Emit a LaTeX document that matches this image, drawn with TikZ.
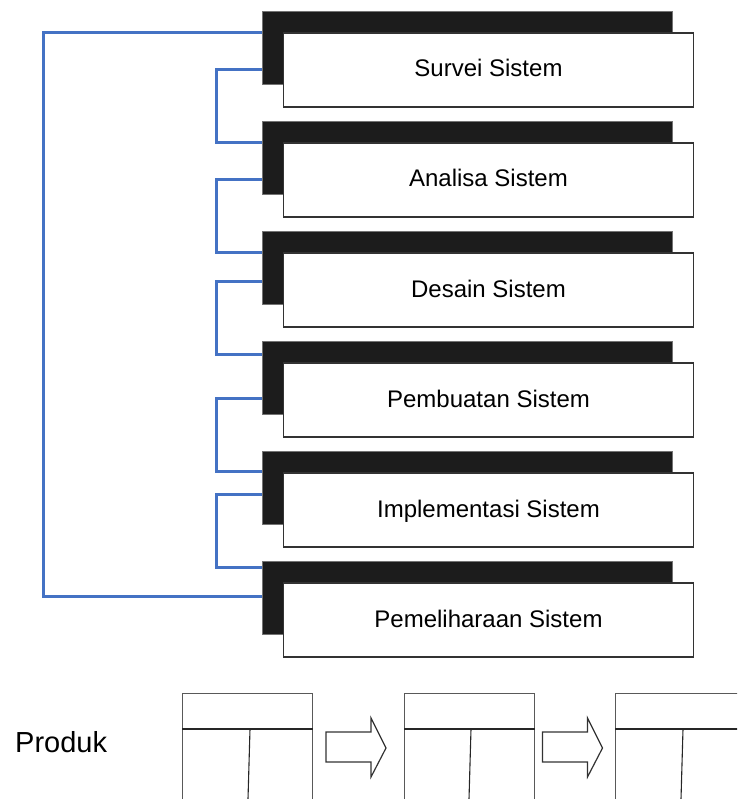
\documentclass[tikz,border=0pt]{standalone}
\usepackage{fontspec}
\setmainfont{Liberation Sans}
\usetikzlibrary{calc}
\definecolor{blueline}{HTML}{4472C4}
\definecolor{shade}{HTML}{1C1C1C}
\begin{document}
\begin{tikzpicture}[x=1pt,y=-1pt,
  shadowbox/.style={fill=shade, draw=black!55, line width=0.8pt, minimum width=410pt, minimum height=73pt, inner sep=0pt},
  stagebox/.style={fill=white, draw=black!80, line width=1.2pt, minimum width=410pt, minimum height=74pt, inner sep=0pt,
    text height=16pt, text depth=2pt, font=\fontsize{24}{28}\selectfont},
  conn/.style={draw=blueline, line width=3pt},
  tablebox/.style={draw=black!65, line width=1.2pt, minimum width=130pt, minimum height=137pt, inner sep=0pt, anchor=north west},
  tableinner/.style={draw=black!85, line width=1.1pt},
  blockarrow/.style={draw=black!80, line width=1.2pt, fill=white, line join=miter},
  labeltext/.style={font=\fontsize{29}{33}\selectfont, inner sep=0pt, anchor=base west}
]
\useasboundingbox (0,0) rectangle (737,799);
\clip (0,0) rectangle (737,799);

% stages
\node[shadowbox] (b1) at (467,47.5) {};
\node[stagebox]  (w1) at (488.5,70) {Survei Sistem};
\node[shadowbox] (b2) at (467,157.5) {};
\node[stagebox]  (w2) at (488.5,180) {Analisa Sistem};
\node[shadowbox] (b3) at (467,267.5) {};
\node[stagebox]  (w3) at (488.5,290) {Desain Sistem};
\node[shadowbox] (b4) at (467,377.5) {};
\node[stagebox]  (w4) at (488.5,400) {Pembuatan Sistem};
\node[shadowbox] (b5) at (467,487.5) {};
\node[stagebox]  (w5) at (488.5,510) {Implementasi Sistem};
\node[shadowbox] (b6) at (467,597.5) {};
\node[stagebox]  (w6) at (488.5,620) {Pemeliharaan Sistem};

% connector anchor points on the left edge of the dark boxes
\coordinate (u1) at ($(b1.north west)+(0,22)$);
\coordinate (l1) at ($(b1.north west)+(0,59)$);
\coordinate (u2) at ($(b2.north west)+(0,22)$);
\coordinate (l2) at ($(b2.north west)+(0,59)$);
\coordinate (u3) at ($(b3.north west)+(0,22)$);
\coordinate (l3) at ($(b3.north west)+(0,51)$);
\coordinate (u4) at ($(b4.north west)+(0,14)$);
\coordinate (l4) at ($(b4.north west)+(0,58)$);
\coordinate (u5) at ($(b5.north west)+(0,21)$);
\coordinate (l5) at ($(b5.north west)+(0,44)$);
\coordinate (u6) at ($(b6.north west)+(0,7)$);
\coordinate (l6) at ($(b6.north west)+(0,36)$);

\draw[conn] (l1) -- ++(-45,0) |- (u2);
\draw[conn] (l2) -- ++(-45,0) |- (u3);
\draw[conn] (l3) -- ++(-45,0) |- (u4);
\draw[conn] (l4) -- ++(-45,0) |- (u5);
\draw[conn] (l5) -- ++(-45,0) |- (u6);
\draw[conn] (u1) -- ++(-218,0) |- (l6);

% product row
\node[labeltext] (produk) at (15,752) {Produk};

\node[tablebox] (t1) at (182,693) {};
\node[tablebox] (t2) at (404,693) {};
\node[tablebox] (t3) at (615,693) {};
\draw[tableinner] ($(t1.north west)+(0,36)$) -- ($(t1.north east)+(0,36)$);
\draw[tableinner] ($(t2.north west)+(0,36)$) -- ($(t2.north east)+(0,36)$);
\draw[tableinner] ($(t3.north west)+(0,36)$) -- ($(t3.north east)+(0,36)$);
\draw[tableinner] ($(t1.north west)+(68,36)$) -- ($(t1.north west)+(66,106)$);
\draw[tableinner] ($(t2.north west)+(67,36)$) -- ($(t2.north west)+(65,106)$);
\draw[tableinner] ($(t3.north west)+(68,36)$) -- ($(t3.north west)+(66,106)$);

\draw[blockarrow] (326,732) -- (371,732) -- (371,718) -- (386,748) -- (371,777) -- (371,762) -- (326,762) -- cycle;
\draw[blockarrow] (542.5,732) -- (587.5,732) -- (587.5,718) -- (602.5,748) -- (587.5,777) -- (587.5,762) -- (542.5,762) -- cycle;
\end{tikzpicture}
\end{document}
